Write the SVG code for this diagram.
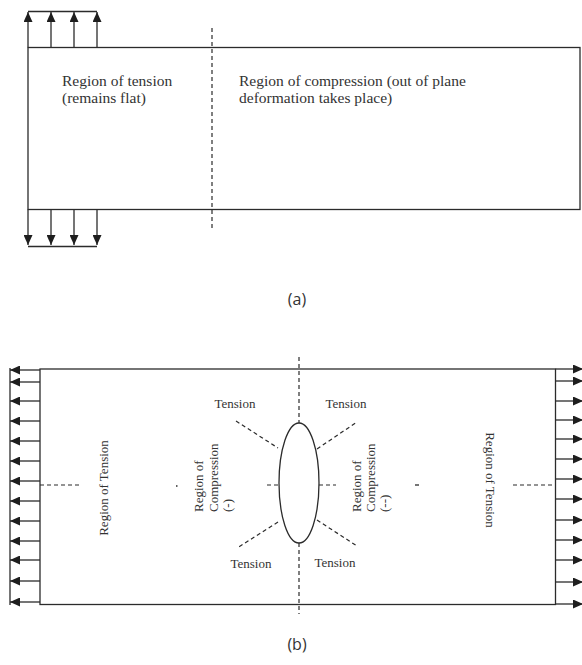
<svg xmlns="http://www.w3.org/2000/svg" width="582" height="665" viewBox="0 0 582 665">
<style>
.ln{stroke:#2b2b2b;stroke-width:1.3;fill:none}
.ds{stroke:#2b2b2b;stroke-width:1.2;stroke-dasharray:4,3;fill:none}
.ar{stroke:#2b2b2b;stroke-width:1.3;fill:none;marker-end:url(#ah)}
.t{font-family:"Liberation Serif","Times New Roman",serif;fill:#333}
.cap{font-family:"Open Sans","Noto Sans",sans-serif;font-size:16px;fill:#333;text-anchor:middle}
</style>
<defs>
<marker id="ah" markerUnits="userSpaceOnUse" markerWidth="10" markerHeight="9" refX="10" refY="4.5" orient="auto">
<path d="M0,0 L10,4.5 L0,9 z" fill="#1e1e1e"/>
</marker>
</defs>

<!-- (a) -->
<g id="plateA">
<rect class="ln" x="28" y="47.5" width="552" height="162"/>
</g>
<g id="connectorsA">
<line class="ar" x1="28" y1="47.5" x2="28" y2="12"/>
<line class="ar" x1="51" y1="47.5" x2="51" y2="12"/>
<line class="ar" x1="74" y1="47.5" x2="74" y2="12"/>
<line class="ar" x1="97" y1="47.5" x2="97" y2="12"/>
<line class="ln" x1="28" y1="11.5" x2="97" y2="11.5"/>
<line class="ar" x1="28" y1="209.5" x2="28" y2="245"/>
<line class="ar" x1="51" y1="209.5" x2="51" y2="245"/>
<line class="ar" x1="74" y1="209.5" x2="74" y2="245"/>
<line class="ar" x1="97" y1="209.5" x2="97" y2="245"/>
<line class="ln" x1="28" y1="246.5" x2="97" y2="246.5"/>
<line class="ds" x1="212" y1="28" x2="212" y2="231"/>
</g>
<g id="labelsA" class="t" font-size="15.5">
<text x="62" y="86">Region of tension</text>
<text x="62" y="103">(remains flat)</text>
<text x="239" y="86">Region of compression (out of plane</text>
<text x="239" y="103">deformation takes place)</text>
</g>
<text class="cap" x="297" y="305">(a)</text>

<!-- (b) -->
<g id="plateB">
<rect class="ln" x="40" y="369" width="515.5" height="235.5"/>
</g>
<g id="hole">
<ellipse class="ln" cx="299" cy="483" rx="20" ry="60"/>
</g>
<g id="connectorsB">
<line class="ln" x1="10" y1="368" x2="10" y2="605"/>
<line class="ar" x1="40" y1="370" x2="10" y2="370"/>
<line class="ar" x1="40" y1="382" x2="10" y2="382"/>
<line class="ar" x1="40" y1="401" x2="10" y2="401"/>
<line class="ar" x1="40" y1="421" x2="10" y2="421"/>
<line class="ar" x1="40" y1="441" x2="10" y2="441"/>
<line class="ar" x1="40" y1="461" x2="10" y2="461"/>
<line class="ar" x1="40" y1="481" x2="10" y2="481"/>
<line class="ar" x1="40" y1="501" x2="10" y2="501"/>
<line class="ar" x1="40" y1="521" x2="10" y2="521"/>
<line class="ar" x1="40" y1="541" x2="10" y2="541"/>
<line class="ar" x1="40" y1="560" x2="10" y2="560"/>
<line class="ar" x1="40" y1="581" x2="10" y2="581"/>
<line class="ar" x1="40" y1="602" x2="10" y2="602"/>

<line class="ar" x1="555.5" y1="369" x2="583" y2="369"/>
<line class="ar" x1="555.5" y1="381" x2="583" y2="381"/>
<line class="ar" x1="555.5" y1="401" x2="583" y2="401"/>
<line class="ar" x1="555.5" y1="420" x2="583" y2="420"/>
<line class="ar" x1="555.5" y1="439" x2="583" y2="439"/>
<line class="ar" x1="555.5" y1="459" x2="583" y2="459"/>
<line class="ar" x1="555.5" y1="479" x2="583" y2="479"/>
<line class="ar" x1="555.5" y1="499" x2="583" y2="499"/>
<line class="ar" x1="555.5" y1="520" x2="583" y2="520"/>
<line class="ar" x1="555.5" y1="540" x2="583" y2="540"/>
<line class="ar" x1="555.5" y1="560" x2="583" y2="560"/>
<line class="ar" x1="555.5" y1="582" x2="583" y2="582"/>
<line class="ar" x1="555.5" y1="604" x2="583" y2="604"/>

<line class="ds" x1="40" y1="485" x2="81" y2="485"/>
<line class="ds" x1="513" y1="485" x2="555.5" y2="485"/>
<line class="ds" x1="299" y1="357" x2="299" y2="423"/>
<line class="ds" x1="299" y1="543" x2="299" y2="614"/>
<line class="ds" x1="267" y1="485" x2="279" y2="485"/>
<line class="ds" x1="319" y1="485" x2="336" y2="485"/>
<line class="ds" x1="236" y1="421" x2="278" y2="448"/>
<line class="ds" x1="317" y1="449" x2="357" y2="422"/>
<line class="ds" x1="278" y1="522" x2="237" y2="548"/>
<line class="ds" x1="317" y1="520" x2="357" y2="546"/>
<line class="ln" x1="176" y1="486" x2="177.5" y2="486"/>
<line class="ln" x1="415" y1="485" x2="419" y2="485"/>
</g>
<g id="labelsB" class="t" font-size="13">
<text x="235" y="408" text-anchor="middle">Tension</text>
<text x="346" y="408" text-anchor="middle">Tension</text>
<text x="251" y="568" text-anchor="middle">Tension</text>
<text x="335" y="567" text-anchor="middle">Tension</text>
<text transform="translate(108,488) rotate(-90)" text-anchor="middle">Region of Tension</text>
<text transform="translate(486,480) rotate(90)" text-anchor="middle">Region of Tension</text>
<text transform="translate(203,512) rotate(-90)">Region of</text>
<text transform="translate(217.5,512) rotate(-90)">Compression</text>
<text transform="translate(232,512) rotate(-90)">(-)</text>
<text transform="translate(361,512) rotate(-90)">Region of</text>
<text transform="translate(375,512) rotate(-90)">Compression</text>
<text transform="translate(389,512) rotate(-90)">(--)</text>
</g>
<text class="cap" x="297" y="650">(b)</text>
</svg>
